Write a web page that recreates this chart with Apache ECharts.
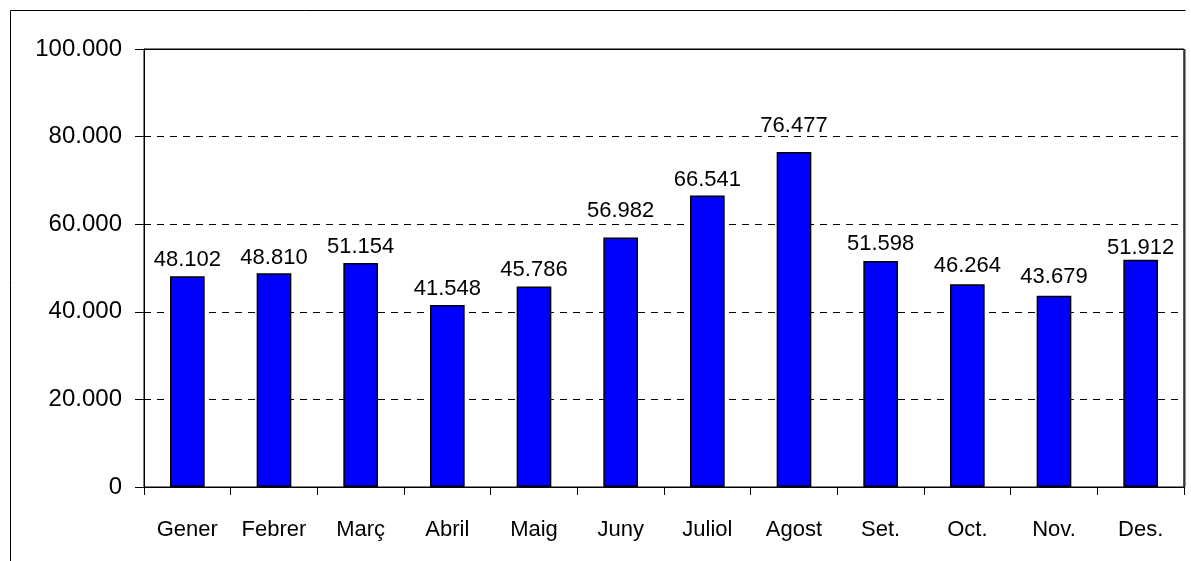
<!DOCTYPE html>
<html>
<head>
<meta charset="utf-8">
<script src="https://cdn.jsdelivr.net/npm/echarts@6/dist/echarts.min.js"></script>
<style>
html,body{margin:0;padding:0;background:#fff;}
#chart{width:1191px;height:561px;}
</style>
</head>
<body>
<div id="chart"></div>
<script>
const categories = ['Gener','Febrer','Març','Abril','Maig','Juny','Juliol','Agost','Set.','Oct.','Nov.','Des.'];
const values = [48102, 48810, 51154, 41548, 45786, 56982, 66541, 76477, 51598, 46264, 43679, 51912];
const yMin = 0, yMax = 100000, yStep = 20000;
// label gap above each bar (style only)
const labelGaps = [5, 4, 5, 5, 6, 15, 5, 15, 6, 7, 8, 1];

function fmt(v){
  return String(Math.round(v)).replace(/\B(?=(\d{3})+(?!\d))/g, '.');
}
const FONT = '"Liberation Sans", Arial, sans-serif';

const chart = echarts.init(document.getElementById('chart'), null, {renderer:'canvas'});
chart.setOption({
  backgroundColor:'#fff',
  animation:false,
  grid:{left:144, right:7, top:49, bottom:74, show:true, borderColor:'#000', borderWidth:1, backgroundColor:'transparent'},
  xAxis:{
    type:'category', data:categories, boundaryGap:true,
    axisLine:{show:true, lineStyle:{color:'#000', width:1}},
    axisTick:{show:true, alignWithLabel:false, length:8, inside:false, lineStyle:{color:'#000'}},
    axisLabel:{color:'#000', fontFamily:FONT, fontSize:22, margin:32, interval:0}
  },
  yAxis:{
    type:'value', min:yMin, max:yMax, interval:yStep,
    axisLine:{show:true, lineStyle:{color:'#000', width:1}},
    axisTick:{show:true, length:9, lineStyle:{color:'#000'}},
    axisLabel:{color:'#000', fontFamily:FONT, fontSize:24, margin:22, formatter:fmt},
    splitLine:{show:true, lineStyle:{color:'#000', width:1, type:[7,6]}}
  },
  series:[{
    type:'bar',
    data:values.map((v,i)=>({value:v, label:{distance:labelGaps[i]}})),
    barWidth:'40%',
    itemStyle:{color:'#0000ff', borderColor:'#000', borderWidth:1.5},
    label:{show:true, position:'top', distance:5, color:'#000', fontFamily:FONT, fontSize:22, formatter:p=>fmt(p.value)}
  }],
  graphic:[
    {type:'line', shape:{x1:10.5,y1:10.5,x2:1185.5,y2:10.5}, style:{stroke:'#000', lineWidth:1}, silent:true},
    {type:'line', shape:{x1:10.5,y1:10.5,x2:10.5,y2:561}, style:{stroke:'#000', lineWidth:1}, silent:true},
    {type:'line', shape:{x1:144,y1:49.5,x2:1184,y2:49.5}, style:{stroke:'#000', lineWidth:1}, silent:true, z:100},
    {type:'line', shape:{x1:1184.5,y1:49,x2:1184.5,y2:487}, style:{stroke:'#333', lineWidth:2}, silent:true, z:100}
  ]
});
</script>
</body>
</html>
